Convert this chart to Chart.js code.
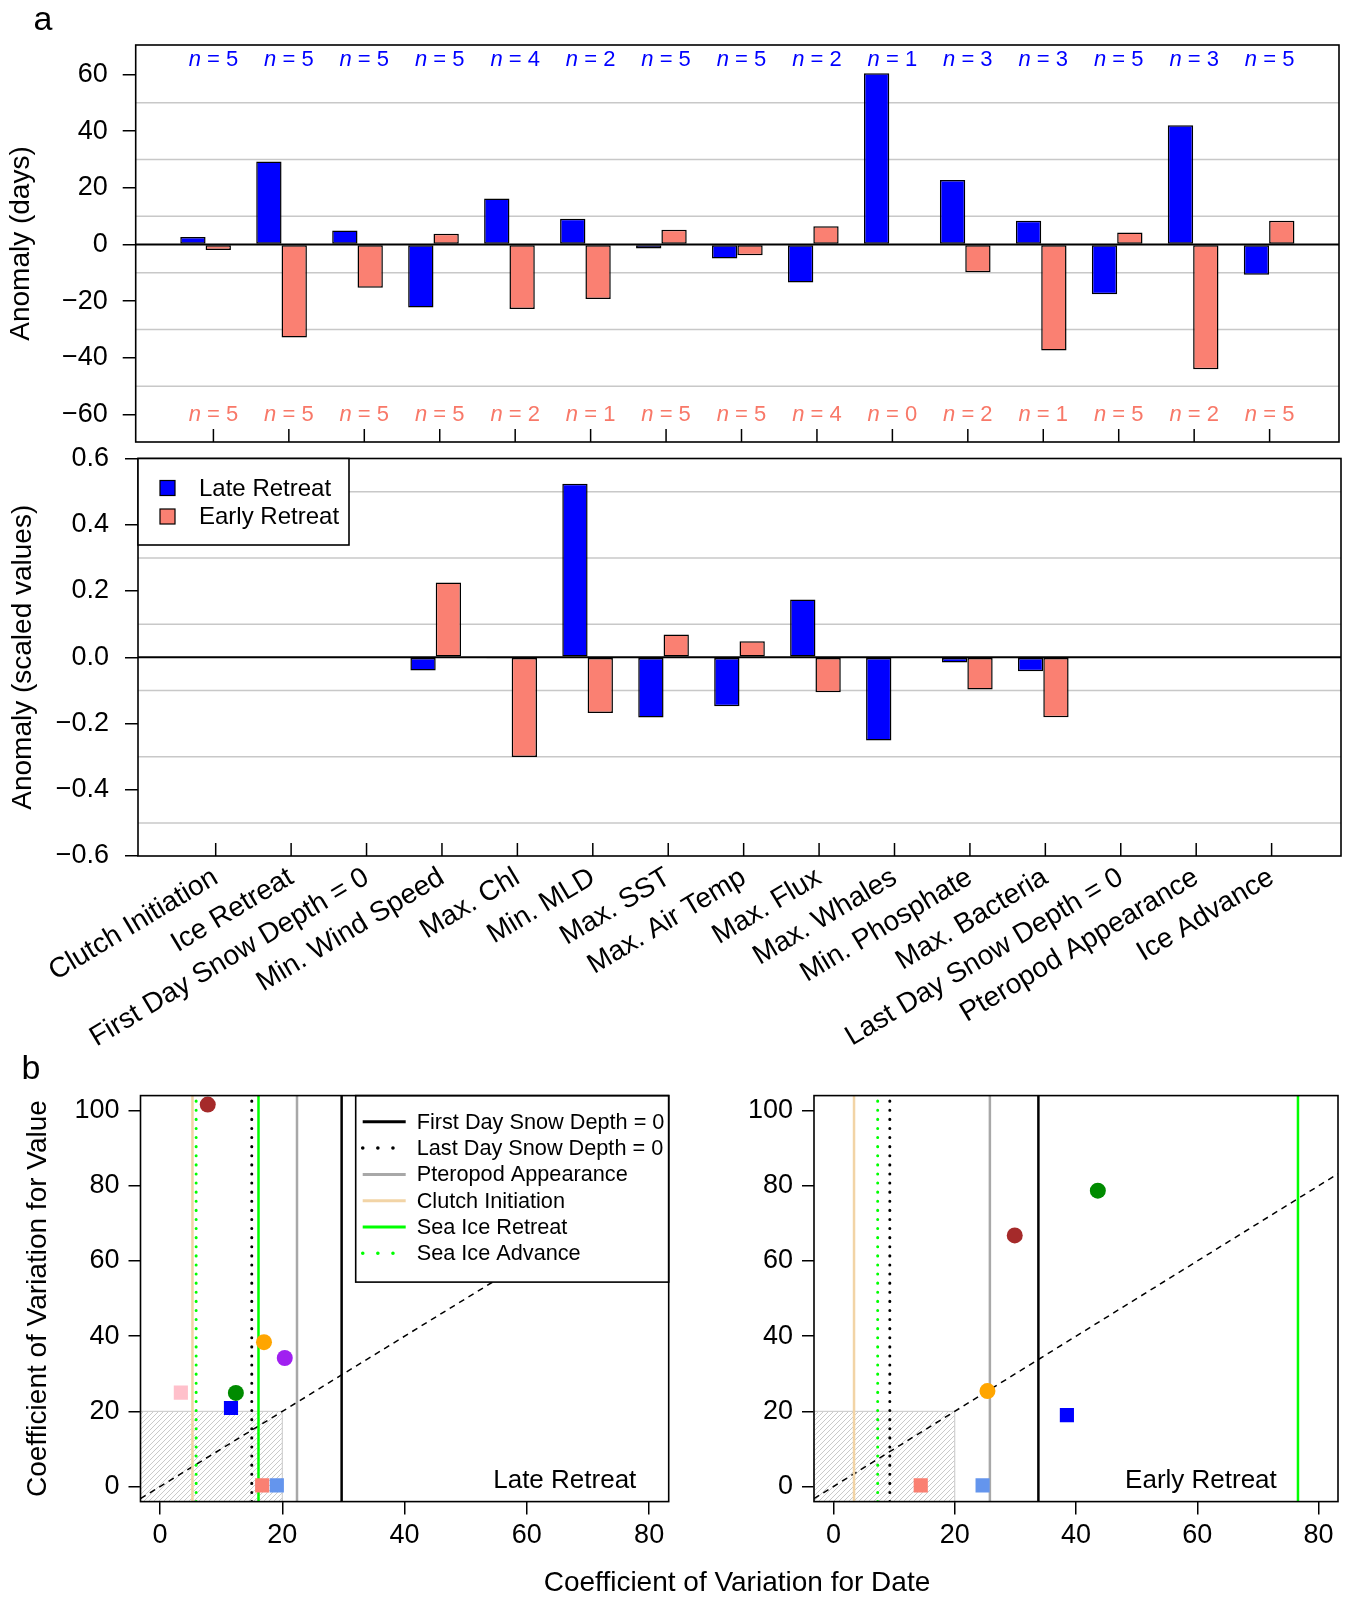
<!DOCTYPE html>
<html lang="en">

<head>
    <meta charset="UTF-8">
    <title>Late vs early sea ice retreat anomalies</title>
    <script src="https://cdn.jsdelivr.net/npm/chart.js"></script>
    <style>
        body { margin: 0; background: #fff; }
        #page { position: relative; width: 1348px; height: 1598px; font-family: "Liberation Sans", Arial, sans-serif; }
        #page canvas { position: absolute; left: 0; top: 0; }
        .txt { position: absolute; transform: translate(-50%, -50%); white-space: nowrap; color: #000; }
    </style>
</head>

<body>
    <div id="page">
        <canvas id="barDays" width="1348" height="1598"></canvas>
        <canvas id="barScaled" width="1348" height="1598"></canvas>
        <canvas id="cvLate" width="1348" height="1598"></canvas>
        <canvas id="cvEarly" width="1348" height="1598"></canvas>
        <div class="txt" style="left:43px; top:18px; font-size:34px;">a</div>
        <div class="txt" style="left:31px; top:1067px; font-size:34px;">b</div>
        <div class="txt" style="left:737px; top:1582px; font-size:28px;">Coefficient of Variation for Date</div>
    </div>
</body>
<script>
    // ---------- data ----------
    const categories = ['Clutch Initiation', 'Ice Retreat', 'First Day Snow Depth = 0', 'Min. Wind Speed', 'Max. Chl',
        'Min. MLD', 'Max. SST', 'Max. Air Temp', 'Max. Flux', 'Max. Whales', 'Min. Phosphate', 'Max. Bacteria',
        'Last Day Snow Depth = 0', 'Pteropod Appearance', 'Ice Advance'];

    const lateDays = [2.6, 29.3, 4.9, -22.2, 16.2, 9.1, -1.4, -4.9, -13.4, 60.4, 22.8, 8.4, -17.6, 42.1, -10.7];
    const earlyDays = [-1.9, -32.8, -15.3, 3.8, -22.8, -19.2, 5.2, -3.8, 6.4, null, -9.8, -37.4, 4.2, -44.0, 8.4];
    const lateN = [5, 5, 5, 5, 4, 2, 5, 5, 2, 1, 3, 3, 5, 3, 5];
    const earlyN = [5, 5, 5, 5, 2, 1, 5, 5, 4, 0, 2, 1, 5, 2, 5];

    const lateScaled = [null, null, null, -0.040, -0.003, 0.524, -0.182, -0.148, 0.174, -0.251, -0.016, -0.042, null, null, null];
    const earlyScaled = [null, null, null, 0.226, -0.301, -0.168, 0.069, 0.048, -0.106, null, -0.097, -0.181, null, null, null];

    const dayTicks = [-60, -40, -20, 0, 20, 40, 60];
    const scaledTicks = [-0.6, -0.4, -0.2, 0, 0.2, 0.4, 0.6];
    const cvXTicks = [0, 20, 40, 60, 80];
    const cvYTicks = [0, 20, 40, 60, 80, 100];

    // vertical reference lines (CV for date)
    const lineNames = ['First Day Snow Depth = 0', 'Last Day Snow Depth = 0', 'Pteropod Appearance',
        'Clutch Initiation', 'Sea Ice Retreat', 'Sea Ice Advance'];
    const lateLineCV = [29.7, 15.0, 22.4, 5.3, 16.1, 5.9];
    const earlyLineCV = [33.8, 9.3, 25.8, 3.4, 76.6, 7.3];

    // circles: brown, orange, purple, green
    const lateCircleX = [7.8, 17.0, 20.4, 12.4];
    const lateCircleY = [101.6, 38.4, 34.2, 24.9];
    const earlyCircleX = [29.9, 25.4, null, 43.6];
    const earlyCircleY = [66.8, 25.4, null, 78.7];
    // squares: pink, blue, salmon, cornflower
    const lateSquareX = [3.4, 11.6, 16.7, 19.1];
    const lateSquareY = [25.0, 20.9, 0.3, 0.3];
    const earlySquareX = [null, 38.5, 14.4, 24.6];
    const earlySquareY = [null, 19.0, 0.3, 0.3];

    // ---------- styles ----------
    const BLUE = '#0000FF';
    const SALMON = '#FA8072';
    const circleColors = ['#A52A2A', '#FFA500', '#A020F0', '#008B00'];
    const squareColors = ['#FFC0CB', '#0000FF', '#FA8072', '#6495ED'];
    const lineStyles = [
        { color: '#000000', width: 2.5, dash: [], cap: 'butt' },
        { color: '#000000', width: 3, dash: [0.1, 9], cap: 'round' },
        { color: '#A8A8A8', width: 2.5, dash: [], cap: 'butt' },
        { color: '#F2D4A6', width: 2.5, dash: [], cap: 'butt' },
        { color: '#00FF00', width: 2.5, dash: [], cap: 'butt' },
        { color: '#00FF00', width: 3, dash: [0.1, 9], cap: 'round' }
    ];

    const FONT = '"Liberation Sans", Arial, sans-serif';
    Chart.defaults.font.family = FONT;
    Chart.defaults.color = '#000';

    function signed(v, dec) {
        const s = Math.abs(v).toFixed(dec);
        return v < -1e-9 ? '\u2212' + s : s;
    }

    function toXY(values) {
        return values.map((v, i) => ({ x: i, y: v }));
    }

    function pointsFrom(xs, ys, colors) {
        const pts = [], cols = [];
        xs.forEach((x, i) => {
            if (x !== null && ys[i] !== null) {
                pts.push({ x: x, y: ys[i] });
                cols.push(colors[i]);
            }
        });
        return { pts, cols };
    }

    // ---------- plugins ----------
    const frame = {
        id: 'frame',
        afterDraw(chart) {
            const a = chart.chartArea, ctx = chart.ctx;
            ctx.save();
            ctx.strokeStyle = '#000';
            ctx.lineWidth = 1.6;
            ctx.strokeRect(a.left, a.top, a.right - a.left, a.bottom - a.top);
            ctx.restore();
        }
    };

    const hGrid = {
        id: 'hGrid',
        beforeDatasetsDraw(chart, args, opts) {
            const a = chart.chartArea, ctx = chart.ctx, y = chart.scales.y;
            ctx.save();
            ctx.strokeStyle = '#C8C8C8';
            ctx.lineWidth = 1.5;
            (opts.values || []).forEach(v => {
                const py = y.getPixelForValue(v);
                ctx.beginPath();
                ctx.moveTo(a.left, py);
                ctx.lineTo(a.right, py);
                ctx.stroke();
            });
            ctx.restore();
        },
        afterDatasetsDraw(chart) {
            const a = chart.chartArea, ctx = chart.ctx;
            const py = chart.scales.y.getPixelForValue(0);
            ctx.save();
            ctx.strokeStyle = '#000';
            ctx.lineWidth = 2;
            ctx.beginPath();
            ctx.moveTo(a.left, py);
            ctx.lineTo(a.right, py);
            ctx.stroke();
            // category tick marks pointing into the plot
            const x = chart.scales.x;
            ctx.lineWidth = 1.5;
            x.ticks.forEach(t => {
                const px = x.getPixelForValue(t.value);
                ctx.beginPath();
                ctx.moveTo(px, a.bottom);
                ctx.lineTo(px, a.bottom - 13);
                ctx.stroke();
            });
            ctx.restore();
        }
    };

    const nLabels = {
        id: 'nLabels',
        afterDatasetsDraw(chart, args, opts) {
            const ctx = chart.ctx, x = chart.scales.x, y = chart.scales.y;
            const rows = [
                { counts: lateN, at: opts.topAt, color: BLUE },
                { counts: earlyN, at: opts.bottomAt, color: '#F87868' }
            ];
            ctx.save();
            ctx.textBaseline = 'middle';
            rows.forEach(r => {
                const py = y.getPixelForValue(r.at);
                x.ticks.forEach((t, i) => {
                    const px = x.getPixelForValue(t.value);
                    ctx.font = 'italic 22px ' + FONT;
                    const wn = ctx.measureText('n').width;
                    ctx.font = '22px ' + FONT;
                    const rest = ' = ' + r.counts[i];
                    const wr = ctx.measureText(rest).width;
                    const x0 = px - (wn + wr) / 2;
                    ctx.fillStyle = r.color;
                    ctx.textAlign = 'left';
                    ctx.font = 'italic 22px ' + FONT;
                    ctx.fillText('n', x0, py);
                    ctx.font = '22px ' + FONT;
                    ctx.fillText(rest, x0 + wn, py);
                });
            });
            ctx.restore();
        }
    };

    const barLegend = {
        id: 'barLegend',
        afterDraw(chart) {
            const a = chart.chartArea, ctx = chart.ctx;
            const bx = a.left, by = a.top, bw = 211, bh = 86.5;
            ctx.save();
            ctx.fillStyle = '#fff';
            ctx.fillRect(bx, by, bw, bh);
            ctx.strokeStyle = '#000';
            ctx.lineWidth = 1.6;
            ctx.strokeRect(bx, by, bw, bh);
            ctx.font = '24px ' + FONT;
            ctx.textBaseline = 'middle';
            chart.data.datasets.forEach((ds, i) => {
                const cy = by + 29.5 + i * 28.5;
                ctx.fillStyle = ds.backgroundColor;
                ctx.fillRect(bx + 22, cy - 7.5, 15, 15);
                ctx.lineWidth = 1.2;
                ctx.strokeRect(bx + 22, cy - 7.5, 15, 15);
                ctx.fillStyle = '#000';
                ctx.fillText(ds.label, bx + 61, cy + 1);
            });
            ctx.restore();
        }
    };

    function makeHatch(ctx) {
        const c = document.createElement('canvas');
        c.width = 5; c.height = 5;
        const g = c.getContext('2d');
        g.strokeStyle = '#C4C4C4';
        g.lineWidth = 0.9;
        g.beginPath();
        g.moveTo(0, 5); g.lineTo(5, 0);
        g.moveTo(-1, 1); g.lineTo(1, -1);
        g.moveTo(4, 6); g.lineTo(6, 4);
        g.stroke();
        return ctx.createPattern(c, 'repeat');
    }

    const hatch = {
        id: 'hatch',
        beforeDatasetsDraw(chart, args, opts) {
            const ctx = chart.ctx, x = chart.scales.x, y = chart.scales.y;
            const x0 = x.getPixelForValue(x.min), x1 = x.getPixelForValue(opts.x);
            const y0 = y.getPixelForValue(y.min), y1 = y.getPixelForValue(opts.y);
            ctx.save();
            ctx.fillStyle = makeHatch(ctx);
            ctx.fillRect(x0, y1, x1 - x0, y0 - y1);
            ctx.strokeStyle = '#D0D0D0';
            ctx.lineWidth = 1.2;
            ctx.strokeRect(x0, y1, x1 - x0, y0 - y1);
            ctx.restore();
        }
    };

    const lineLegend = {
        id: 'lineLegend',
        afterDatasetsDraw(chart, args, opts) {
            if (!opts.show) return;
            const a = chart.chartArea, ctx = chart.ctx;
            const bw = 313, bh = 186.5, bx = a.right - bw, by = a.top;
            ctx.save();
            ctx.fillStyle = '#fff';
            ctx.fillRect(bx, by, bw, bh);
            ctx.strokeStyle = '#000';
            ctx.lineWidth = 1.6;
            ctx.strokeRect(bx, by, bw, bh);
            ctx.font = '21.7px ' + FONT;
            ctx.textBaseline = 'middle';
            lineNames.forEach((name, i) => {
                const st = lineStyles[i];
                const cy = by + 26.2 + i * 26.3;
                ctx.strokeStyle = st.color;
                ctx.lineWidth = st.width + 0.5;
                ctx.lineCap = st.cap;
                ctx.setLineDash(st.dash.length ? [0.1, 15] : []);
                ctx.beginPath();
                ctx.moveTo(bx + 7, cy);
                ctx.lineTo(bx + 50, cy);
                ctx.stroke();
                ctx.setLineDash([]);
                ctx.fillStyle = '#000';
                ctx.fillText(name, bx + 61, cy + 1);
            });
            ctx.restore();
        }
    };

    const panelTag = {
        id: 'panelTag',
        afterDatasetsDraw(chart, args, opts) {
            const ctx = chart.ctx, x = chart.scales.x, y = chart.scales.y;
            ctx.save();
            ctx.font = '26px ' + FONT;
            ctx.fillStyle = '#000';
            ctx.textAlign = 'center';
            ctx.textBaseline = 'middle';
            ctx.fillText(opts.text, x.getPixelForValue(opts.x), y.getPixelForValue(opts.y));
            ctx.restore();
        }
    };

    // ---------- bar charts ----------
    const barAxisY = (ticks, dec, title, width, pad, titlePad) => ({
        border: { display: false },
        grid: { drawOnChartArea: false, drawTicks: true, tickLength: 13, color: '#000', lineWidth: 1.5 },
        ticks: { padding: pad, font: { size: 27 }, callback: v => signed(v, dec) },
        title: { display: true, text: title, font: { size: 28 }, padding: { top: titlePad, bottom: 0 } },
        afterBuildTicks: s => { s.ticks = ticks.map(v => ({ value: v })); },
        afterFit: s => { s.width = width; s.paddingTop = 0; s.paddingBottom = 0; }
    });

    const groupTicks = s => { s.ticks = categories.map((c, i) => ({ value: 0.103 + i * 0.9931 })); };

    function barSet(label, values, color) {
        return {
            label: label, data: toXY(values), backgroundColor: color,
            borderColor: '#000', borderWidth: 1.5, borderSkipped: false
        };
    }

    new Chart(document.getElementById('barDays'), {
        type: 'bar',
        data: { datasets: [barSet('Late Retreat', lateDays, BLUE), barSet('Early Retreat', earlyDays, SALMON)] },
        options: {
            responsive: false, animation: false,
            datasets: { bar: { categoryPercentage: 0.6715, barPercentage: 1 } },
            layout: { padding: { left: 0, top: 45, right: 1348 - 1339, bottom: 1598 - 442 } },
            scales: {
                x: { type: 'linear', min: -0.92, max: 14.92, offset: false, display: false, afterBuildTicks: groupTicks },
                y: Object.assign({ min: -69.7, max: 70.4 }, barAxisY(dayTicks, 0, 'Anomaly (days)', 135.7, 15, 4))
            },
            plugins: {
                legend: { display: false }, tooltip: { enabled: false },
                hGrid: { values: [-50, -30, -10, 10, 30, 50] },
                nLabels: { topAt: 65, bottomAt: -60 }
            }
        },
        plugins: [hGrid, nLabels, frame]
    });

    const LABEL_BAND = 200;
    new Chart(document.getElementById('barScaled'), {
        type: 'bar',
        data: { datasets: [barSet('Late Retreat', lateScaled, BLUE), barSet('Early Retreat', earlyScaled, SALMON)] },
        options: {
            responsive: false, animation: false,
            datasets: { bar: { categoryPercentage: 0.6715, barPercentage: 1 } },
            layout: { padding: { left: 0, top: 458.5, right: 1348 - 1341, bottom: 1598 - 856 - LABEL_BAND } },
            scales: {
                x: {
                    type: 'linear', min: -0.92, max: 14.92, offset: false,
                    border: { display: false },
                    grid: { display: false, drawTicks: false },
                    ticks: {
                        autoSkip: false, minRotation: 31, maxRotation: 31, padding: 5,
                        font: { size: 28 }, callback: (v, i) => categories[i]
                    },
                    afterBuildTicks: groupTicks,
                    afterFit: s => { s.height = LABEL_BAND; s.paddingLeft = 0; s.paddingRight = 0; }
                },
                y: Object.assign({ min: -0.6, max: 0.6 }, barAxisY(scaledTicks, 1, 'Anomaly (scaled values)', 138, 16, 6))
            },
            plugins: {
                legend: { display: false }, tooltip: { enabled: false },
                hGrid: { values: [-0.5, -0.3, -0.1, 0.1, 0.3, 0.5] }
            }
        },
        plugins: [hGrid, frame, barLegend]
    });

    // ---------- CV scatter panels ----------
    const TICK_BAND = 70;
    function cvChart(id, area, lineCV, cX, cY, sX, sY, tag, showLegend, yTitle) {
        const circles = pointsFrom(cX, cY, circleColors);
        const squares = pointsFrom(sX, sY, squareColors);
        const yMin = -4, yMax = 104, xMin = -3.2, xMax = 83.2;

        const datasets = [
            { data: squares.pts, pointStyle: 'rect', pointRadius: 10, backgroundColor: squares.cols, borderWidth: 0 },
            { data: circles.pts, pointStyle: 'circle', pointRadius: 8, backgroundColor: circles.cols, borderWidth: 0 }
        ];
        lineCV.forEach((v, i) => {
            const st = lineStyles[i];
            datasets.push({
                data: [{ x: v, y: yMin }, { x: v, y: yMax }], showLine: true, pointRadius: 0,
                borderColor: st.color, borderWidth: st.width, borderDash: st.dash, borderCapStyle: st.cap
            });
        });
        // 1:1 line
        datasets.push({
            data: [{ x: xMin, y: xMin }, { x: xMax, y: xMax }], showLine: true, pointRadius: 0,
            borderColor: '#000', borderWidth: 1.5, borderDash: [6, 5]
        });

        new Chart(document.getElementById(id), {
            type: 'scatter',
            data: { datasets: datasets },
            options: {
                responsive: false, animation: false,
                layout: { padding: { left: 0, top: area.top, right: 1348 - area.right, bottom: 1598 - area.bottom - TICK_BAND } },
                scales: {
                    x: {
                        min: xMin, max: xMax,
                        border: { display: false },
                        grid: { drawOnChartArea: false, drawTicks: true, tickLength: 13, color: '#000', lineWidth: 1.5 },
                        ticks: { padding: 5, font: { size: 27 }, callback: v => signed(v, 0) },
                        afterBuildTicks: s => { s.ticks = cvXTicks.map(v => ({ value: v })); },
                        afterFit: s => { s.height = TICK_BAND; s.paddingLeft = 0; s.paddingRight = 0; }
                    },
                    y: {
                        min: yMin, max: yMax,
                        border: { display: false },
                        grid: { drawOnChartArea: false, drawTicks: true, tickLength: 12, color: '#000', lineWidth: 1.5 },
                        ticks: { padding: 9, font: { size: 27 }, callback: v => signed(v, 0) },
                        title: { display: !!yTitle, text: yTitle || '', font: { size: 28 }, padding: { top: 21, bottom: 0 } },
                        afterBuildTicks: s => { s.ticks = cvYTicks.map(v => ({ value: v })); },
                        afterFit: s => { s.width = area.left; s.paddingTop = 0; s.paddingBottom = 0; }
                    }
                },
                plugins: {
                    legend: { display: false }, tooltip: { enabled: false },
                    hatch: { x: 20, y: 20 },
                    lineLegend: { show: showLegend },
                    panelTag: tag
                }
            },
            plugins: [hatch, lineLegend, panelTag, frame]
        });
    }

    cvChart('cvLate', { left: 140.5, right: 668.7, top: 1095.6, bottom: 1501.6 },
        lateLineCV, lateCircleX, lateCircleY, lateSquareX, lateSquareY,
        { text: 'Late Retreat', x: 66.2, y: 1.6 }, true, 'Coefficient of Variation for Value');

    cvChart('cvEarly', { left: 814, right: 1342, top: 1095.6, bottom: 1501.6 },
        earlyLineCV, earlyCircleX, earlyCircleY, earlySquareX, earlySquareY,
        { text: 'Early Retreat', x: 60.6, y: 1.6 }, false, null);
</script>

</html>
